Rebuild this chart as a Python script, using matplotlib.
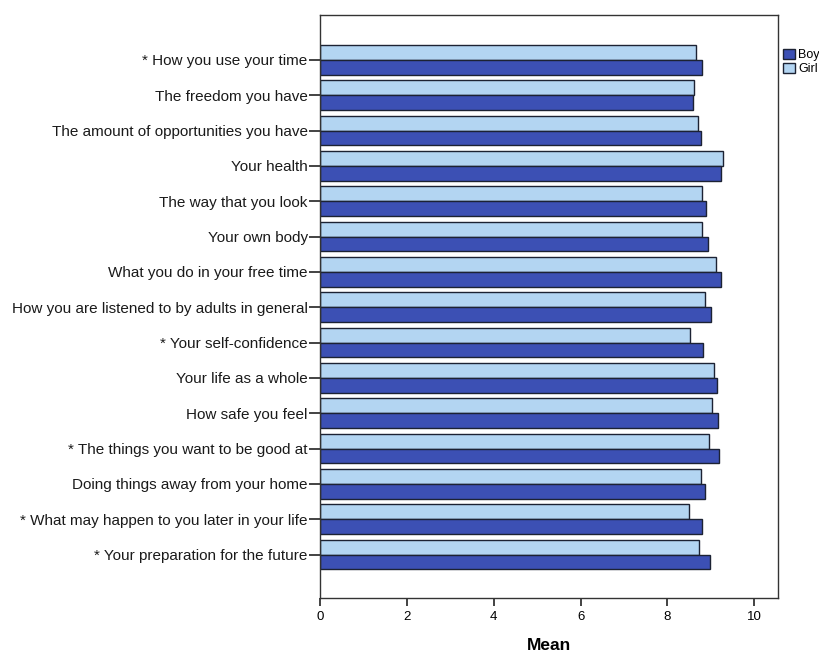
import numpy as np
import matplotlib
matplotlib.use("Agg")
from matplotlib import pyplot as plt

plt.rcParams['font.family'] = ['Liberation Sans', 'DejaVu Sans']

items = [
    "* How you use your time",
    "The freedom you have",
    "The amount of opportunities you have",
    "Your health",
    "The way that you look",
    "Your own body",
    "What you do in your free time",
    "How you are listened to by adults in general",
    "* Your self-confidence",
    "Your life as a whole",
    "How safe you feel",
    "* The things you want to be good at",
    "Doing things away from your home",
    "* What may happen to you later in your life",
    "* Your preparation for the future",
]
boy = [8.80, 8.60, 8.77, 9.24, 8.90, 8.94, 9.23, 9.00, 8.83, 9.15, 9.17, 9.20, 8.87, 8.80, 8.98]
girl = [8.65, 8.62, 8.70, 9.28, 8.79, 8.80, 9.12, 8.87, 8.52, 9.07, 9.03, 8.96, 8.77, 8.50, 8.73]

boy_col = '#3c50b4'
girl_col = '#b3d5f2'
edge = '#1c2233'

fig = plt.figure(figsize=(8.19, 6.55), dpi=100)
ax = fig.add_axes([0.391, 0.087, 0.559, 0.890])

pos = np.arange(len(items))
h = 0.42
ax.barh(pos - h / 2, girl, height=h, color=girl_col, edgecolor=edge, linewidth=1.0, label='Girl')
ax.barh(pos + h / 2, boy, height=h, color=boy_col, edgecolor=edge, linewidth=1.0, label='Boy')

ax.set_ylim(len(items) - 1 + 1.23, -1.27)
ax.set_xlim(0, 10.55)
ax.set_yticks(pos)
ax.set_yticklabels(items, fontsize=11, color='#1a1a1a')
ax.set_xticks([0, 2, 4, 6, 8, 10])
ax.tick_params(axis='y', length=8, width=1.2, color='#222222', pad=1)
ax.tick_params(axis='x', length=6, width=1.2, color='#222222', labelsize=9.5, pad=3)
for s in ax.spines.values():
    s.set_color('#333333')
    s.set_linewidth(1.0)
ax.set_xlabel('Mean', fontsize=12.5, fontweight='bold', labelpad=11)

hnd, lab = ax.get_legend_handles_labels()
ax.legend(hnd[::-1], lab[::-1], loc='upper left', bbox_to_anchor=(0.995, 0.955),
          frameon=False, fontsize=9, handlelength=0.9, handleheight=0.9,
          handletextpad=0.3, labelspacing=0.1, borderaxespad=0.2)

fig.savefig('out.png', dpi=100)
